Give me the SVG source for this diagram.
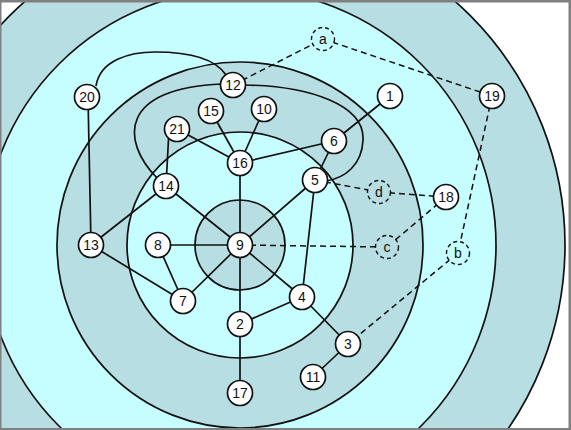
<svg xmlns="http://www.w3.org/2000/svg" width="571" height="430" viewBox="0 0 571 430">
<style>
.ring{stroke:#111;stroke-width:1.7}
.dk{fill:#B7DEE2}
.lt{fill:#C6FDFF}
.e{fill:none;stroke:#111;stroke-width:1.7}
.d{fill:none;stroke:#111;stroke-width:1.5;stroke-dasharray:6 4}
.n circle{fill:#fff;stroke:#111;stroke-width:1.7}
.v circle{stroke:#111;stroke-width:1.4;stroke-dasharray:4 3}
text{font-family:"Liberation Sans",Arial,sans-serif;font-size:14px;fill:#111;text-anchor:middle;dominant-baseline:central}
</style>
<rect x="0" y="0" width="571" height="430" fill="#fff"/>
<g id="rings">
<circle class="ring dk" cx="240" cy="245" r="325"/>
<circle class="ring lt" cx="240" cy="245" r="256"/>
<circle class="ring dk" cx="240" cy="245" r="183"/>
<circle class="ring lt" cx="240" cy="245" r="113"/>
<circle class="ring dk" cx="240" cy="245" r="45"/>
</g>
<g id="connectors">
<line class="e" x1="240" y1="245" x2="240" y2="163"/>
<line class="e" x1="240" y1="245" x2="166" y2="186"/>
<line class="e" x1="240" y1="245" x2="315" y2="180"/>
<line class="e" x1="240" y1="245" x2="158" y2="245"/>
<line class="e" x1="240" y1="245" x2="183" y2="301"/>
<line class="e" x1="240" y1="245" x2="240" y2="324"/>
<line class="e" x1="240" y1="245" x2="302" y2="297"/>
<line class="e" x1="240" y1="163" x2="211" y2="111"/>
<line class="e" x1="240" y1="163" x2="264" y2="109"/>
<line class="e" x1="240" y1="163" x2="177" y2="129"/>
<line class="e" x1="240" y1="163" x2="334" y2="141"/>
<line class="e" x1="169" y1="130" x2="166" y2="186"/>
<line class="e" x1="166" y1="186" x2="91" y2="245"/>
<line class="e" x1="88" y1="97" x2="91" y2="245"/>
<line class="e" x1="91" y1="245" x2="183" y2="301"/>
<line class="e" x1="158" y1="245" x2="183" y2="301"/>
<line class="e" x1="240" y1="324" x2="302" y2="297"/>
<line class="e" x1="240" y1="324" x2="240" y2="393"/>
<line class="e" x1="315" y1="180" x2="302" y2="297"/>
<line class="e" x1="302" y1="297" x2="348" y2="344"/>
<line class="e" x1="348" y1="344" x2="313" y2="377"/>
<line class="e" x1="334" y1="141" x2="390" y2="96"/>
<line class="e" x1="334" y1="141" x2="315" y2="180"/>
<path class="e" d="M157,178 C120,140 120,88 222,84"/>
<path class="e" d="M245,85 C310,86 365,105 363,140 C362,165 345,178 326,181"/>
<path class="e" d="M96,86 C100,60 130,52 155,52 C190,52 215,58 226,75"/>
<line class="d" x1="240" y1="245" x2="387" y2="247"/>
<line class="d" x1="233" y1="85" x2="323" y2="39"/>
<line class="d" x1="323" y1="39" x2="492" y2="96"/>
<line class="d" x1="492" y1="96" x2="458" y2="253"/>
<line class="d" x1="458" y1="253" x2="348" y2="344"/>
<line class="d" x1="315" y1="180" x2="379" y2="192"/>
<line class="d" x1="379" y1="192" x2="446" y2="197"/>
<line class="d" x1="446" y1="197" x2="387" y2="247"/>
</g>
<g id="n9" class="n"><circle cx="240" cy="245" r="12.5"/><text x="240" y="245">9</text></g>
<g id="n16" class="n"><circle cx="240" cy="163" r="12.5"/><text x="240" y="163">16</text></g>
<g id="n14" class="n"><circle cx="166" cy="186" r="12.5"/><text x="166" y="186">14</text></g>
<g id="n5" class="n"><circle cx="315" cy="180" r="12.5"/><text x="315" y="180">5</text></g>
<g id="n8" class="n"><circle cx="158" cy="245" r="12.5"/><text x="158" y="245">8</text></g>
<g id="n7" class="n"><circle cx="183" cy="301" r="12.5"/><text x="183" y="301">7</text></g>
<g id="n2" class="n"><circle cx="240" cy="324" r="12.5"/><text x="240" y="324">2</text></g>
<g id="n4" class="n"><circle cx="302" cy="297" r="12.5"/><text x="302" y="297">4</text></g>
<g id="n15" class="n"><circle cx="211" cy="111" r="12.5"/><text x="211" y="111">15</text></g>
<g id="n10" class="n"><circle cx="264" cy="109" r="12.5"/><text x="264" y="109">10</text></g>
<g id="n21" class="n"><circle cx="177" cy="129" r="12.5"/><text x="177" y="129">21</text></g>
<g id="n6" class="n"><circle cx="334" cy="141" r="12.5"/><text x="334" y="141">6</text></g>
<g id="n1" class="n"><circle cx="390" cy="96" r="12.5"/><text x="390" y="96">1</text></g>
<g id="n12" class="n"><circle cx="233" cy="85" r="12.5"/><text x="233" y="85">12</text></g>
<g id="n20" class="n"><circle cx="87" cy="97" r="12.5"/><text x="87" y="97">20</text></g>
<g id="n13" class="n"><circle cx="91" cy="245" r="12.5"/><text x="91" y="245">13</text></g>
<g id="n17" class="n"><circle cx="240" cy="393" r="12.5"/><text x="240" y="393">17</text></g>
<g id="n3" class="n"><circle cx="348" cy="344" r="12.5"/><text x="348" y="344">3</text></g>
<g id="n11" class="n"><circle cx="313" cy="377" r="12.5"/><text x="313" y="377">11</text></g>
<g id="n19" class="n"><circle cx="492" cy="96" r="12.5"/><text x="492" y="96">19</text></g>
<g id="n18" class="n"><circle cx="446" cy="197" r="12.5"/><text x="446" y="197">18</text></g>
<g id="na" class="v"><circle class="lt" cx="323" cy="39" r="11.5"/><text x="323" y="39">a</text></g>
<g id="nb" class="v"><circle class="lt" cx="458" cy="253" r="11.5"/><text x="458" y="253">b</text></g>
<g id="nc" class="v"><circle class="dk" cx="387" cy="247" r="11.5"/><text x="387" y="247">c</text></g>
<g id="nd" class="v"><circle class="dk" cx="379" cy="192" r="11.5"/><text x="379" y="192">d</text></g>
<g id="frame" fill="#808080">
<rect x="0" y="0" width="571" height="2.5"/>
<rect x="0" y="0" width="1.5" height="430"/>
<rect x="568.5" y="0" width="2.5" height="430"/>
<rect x="0" y="428" width="571" height="2"/>
</g>
</svg>
